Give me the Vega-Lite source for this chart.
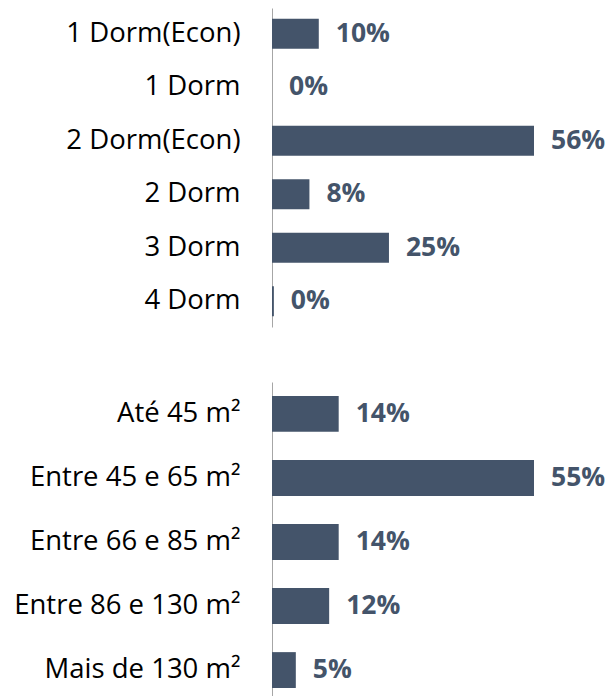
{
  "$schema": "https://vega.github.io/schema/vega-lite/v6.json",
  "autosize": {"type": "pad"},
  "padding": {"left": 13, "top": 8, "right": 0, "bottom": 0},
  "background": "white",
  "config": {
    "view": {"stroke": null},
    "font": "Open Sans",
    "concat": {"spacing": 55}
  },
  "datasets": {
    "dorm": [
      {"cat": "1 Dorm(Econ)", "pct": 10, "label": "10%"},
      {"cat": "1 Dorm", "pct": 0, "label": "0%"},
      {"cat": "2 Dorm(Econ)", "pct": 56, "label": "56%"},
      {"cat": "2 Dorm", "pct": 8, "label": "8%"},
      {"cat": "3 Dorm", "pct": 25, "label": "25%"},
      {"cat": "4 Dorm", "pct": 0.4, "label": "0%"}
    ],
    "area": [
      {"cat": "Até 45 m²", "pct": 14, "label": "14%"},
      {"cat": "Entre 45 e 65 m²", "pct": 55, "label": "55%"},
      {"cat": "Entre 66 e 85 m²", "pct": 14, "label": "14%"},
      {"cat": "Entre 86 e 130 m²", "pct": 12, "label": "12%"},
      {"cat": "Mais de 130 m²", "pct": 5, "label": "5%"}
    ]
  },
  "vconcat": [
    {
      "width": 262,
      "height": 319,
      "data": {"name": "dorm"},
      "encoding": {
        "y": {
          "field": "cat", "type": "nominal", "sort": null, "title": null,
          "scale": {"paddingInner": 0.44, "paddingOuter": 0.2},
          "axis": {"ticks": false, "tickSize": 0, "labelPadding": 32, "labelLimit": 0, "labelFontSize": 27.5, "labelColor": "#000000", "labelFont": "Open Sans", "domainColor": "#A6A6A6", "domainWidth": 1, "grid": false}
        },
        "x": {"field": "pct", "type": "quantitative", "scale": {"domain": [0, 56]}, "axis": null}
      },
      "layer": [
        {"mark": {"type": "bar", "color": "#44546A"}},
        {"mark": {"type": "text", "align": "left", "dx": 17, "fontWeight": "bold", "fontSize": 26.5, "color": "#44546A"},
         "encoding": {"text": {"field": "label"}}}
      ]
    },
    {
      "width": 262,
      "height": 314,
      "data": {"name": "area"},
      "encoding": {
        "y": {
          "field": "cat", "type": "nominal", "sort": null, "title": null,
          "scale": {"paddingInner": 0.44, "paddingOuter": 0.172, "align": 0.636},
          "axis": {"ticks": false, "tickSize": 0, "labelPadding": 32, "labelLimit": 0, "labelFontSize": 27.5, "labelColor": "#000000", "labelFont": "Open Sans", "domainColor": "#A6A6A6", "domainWidth": 1, "grid": false}
        },
        "x": {"field": "pct", "type": "quantitative", "scale": {"domain": [0, 55]}, "axis": null}
      },
      "layer": [
        {"mark": {"type": "bar", "color": "#44546A"}},
        {"mark": {"type": "text", "align": "left", "dx": 17, "fontWeight": "bold", "fontSize": 26.5, "color": "#44546A"},
         "encoding": {"text": {"field": "label"}}}
      ]
    }
  ]
}
